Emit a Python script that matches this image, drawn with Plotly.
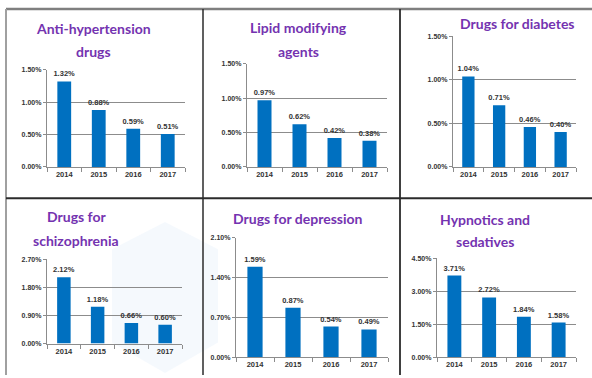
import plotly.graph_objects as go

W, H = 592, 378

years = ["2014", "2015", "2016", "2017"]

titles = [
    "Anti-hypertension<br>drugs",
    "Lipid modifying<br>agents",
    "Drugs for diabetes",
    "Drugs for<br>schizophrenia",
    "Drugs for depression",
    "Hypnotics and<br>sedatives",
]

anti_hypertension = [1.32, 0.88, 0.59, 0.51]
lipid_modifying = [0.97, 0.62, 0.42, 0.38]
diabetes = [1.04, 0.71, 0.46, 0.40]
schizophrenia = [2.12, 1.18, 0.66, 0.60]
depression = [1.59, 0.87, 0.54, 0.49]
hypnotics = [3.71, 2.72, 1.84, 1.58]

series = [anti_hypertension, lipid_modifying, diabetes, schizophrenia, depression, hypnotics]
y_max = [1.5, 1.5, 1.5, 2.7, 2.1, 4.5]
y_step = [0.5, 0.5, 0.5, 0.9, 0.7, 1.5]

# plot-area boxes in pixels: (left, right, top, bottom)
boxes = [
    (47, 185, 67, 166),
    (247, 387, 61, 166),
    (453, 576, 33, 166),
    (47, 182, 260, 346),
    (236, 388, 238, 360),
    (437, 576, 259, 360),
]
# title centre x and the centre y of each title line, in pixels
title_pos = [
    (93, [25, 48]),
    (298, [24, 48]),
    (517, [20]),
    (76, [217, 241]),
    (298, [219]),
    (485, [220, 242]),
]

BAR = "#0070C0"
GRID = "#8C8C8C"
TITLE = "#7433B0"
TXT = "#333333"

fig = go.Figure()
layout = {}

for i, vals in enumerate(series):
    n = "" if i == 0 else str(i + 1)
    l, r, t, b = boxes[i]
    fig.add_trace(go.Bar(
        x=years, y=vals, xaxis="x" + n, yaxis="y" + n,
        marker=dict(color=BAR, line=dict(width=0)),
        texttemplate="%{y:.2f}%", textposition="outside", constraintext="none",
        textfont=dict(family="Liberation Sans", size=7.5, color=TXT, weight="bold"),
        cliponaxis=False, showlegend=False, hoverinfo="skip",
    ))
    layout["xaxis" + n] = dict(
        domain=[l / W, r / W], anchor="y" + n, type="category",
        showline=True, linecolor=GRID, linewidth=1.3,
        ticks="outside", tickson="boundaries", ticklen=4, tickcolor=GRID,
        tickfont=dict(family="Liberation Sans", size=7.5, color=TXT, weight="bold"),
        showgrid=False, fixedrange=True,
    )
    layout["yaxis" + n] = dict(
        domain=[1 - b / H, 1 - t / H], anchor="x" + n,
        range=[0, y_max[i]], dtick=y_step[i], tick0=0,
        tickformat=".2f", ticksuffix="%",
        showline=True, linecolor=GRID, linewidth=1.3,
        ticks="outside", ticklen=3, tickcolor=GRID,
        showgrid=True, gridcolor=GRID, gridwidth=1.3,
        zeroline=False,
        tickfont=dict(family="Liberation Sans", size=7, color=TXT, weight="bold"),
        fixedrange=True,
    )

annotations = []
for i, ttl in enumerate(titles):
    cx, line_ys = title_pos[i]
    for line, cy in zip(ttl.split("<br>"), line_ys):
        annotations.append(dict(
            text=line, x=cx / W, y=1 - cy / H, xref="paper", yref="paper",
            xanchor="center", yanchor="middle", showarrow=False,
            font=dict(family="Lato", size=14, color=TITLE, weight="bold"),
        ))

shapes = [
    # faint background hexagon
    dict(type="path", xref="paper", yref="paper", layer="below",
         path="M {0},{1} L {2},{3} L {2},{4} L {0},{5} L {6},{4} L {6},{3} Z".format(
             165 / W, 1 - 222 / H, 218 / W, 1 - 250 / H, 1 - 345 / H, 1 - 376 / H, 112 / W),
         fillcolor="rgba(232,242,251,0.45)", line=dict(width=0)),
    # table frame
    dict(type="line", xref="paper", yref="paper", x0=6 / W, x1=1, y0=1 - 5 / H, y1=1 - 5 / H,
         line=dict(color="#7F7F7F", width=2.5)),
    dict(type="line", xref="paper", yref="paper", x0=6 / W, x1=6 / W, y0=1 - 5 / H, y1=0,
         line=dict(color="#A0A0A0", width=2)),
    dict(type="line", xref="paper", yref="paper", x0=203 / W, x1=203 / W, y0=1 - 5 / H, y1=0,
         line=dict(color="#2B2B2B", width=1.5)),
    dict(type="line", xref="paper", yref="paper", x0=400 / W, x1=400 / W, y0=1 - 5 / H, y1=0,
         line=dict(color="#2B2B2B", width=1.8)),
    dict(type="line", xref="paper", yref="paper", x0=6 / W, x1=1, y0=1 - 198 / H, y1=1 - 198 / H,
         line=dict(color="#2B2B2B", width=2)),
]

fig.update_layout(
    width=W, height=H,
    margin=dict(l=0, r=0, t=0, b=0),
    paper_bgcolor="white", plot_bgcolor="rgba(0,0,0,0)",
    bargap=0.6,
    annotations=annotations, shapes=shapes,
    **layout,
)

fig.write_html("out.html", config={"displayModeBar": False})
